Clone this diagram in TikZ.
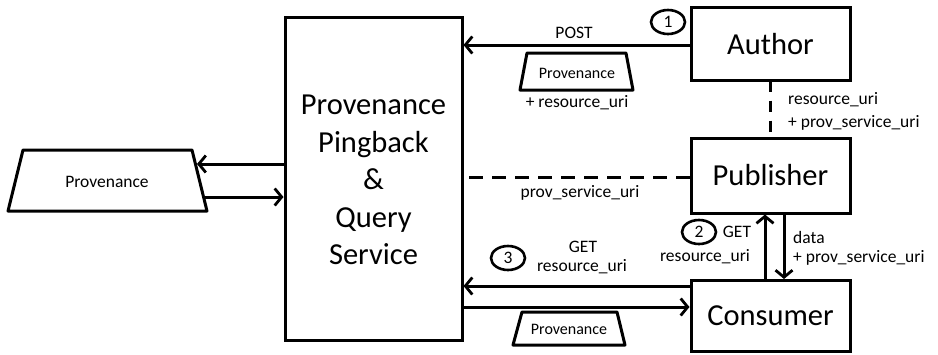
\documentclass[tikz,border=0pt]{standalone}
\usepackage{fontspec}
\setmainfont{Carlito}
\usetikzlibrary{arrows.meta,shapes.geometric}
\tikzset{
  box/.style={draw, line width=3pt, inner sep=0pt},
  big/.style={font=\fontsize{30.5}{37.5}\selectfont},
  lbl/.style={font=\fontsize{17.5}{21}\selectfont, inner sep=0pt},
  arr/.style={line width=3pt, -{Straight Barb[length=7pt,width=17pt,line width=2.8pt]}},
  dsh/.style={line width=3pt, dash pattern=on 14pt off 9pt},
  num/.style={draw, ellipse, line width=2.6pt, minimum width=34pt, minimum height=24pt, inner sep=0pt, font=\fontsize{17.5}{21}\selectfont},
  trap/.style={line width=3pt, line join=round},
}
\begin{document}
\begin{tikzpicture}[x=1pt,y=-1pt]
\useasboundingbox (0,0) rectangle (938,354);
% boxes
\node[box, big, minimum width=177pt, minimum height=323pt] (main) at (373.5,178.5) {};
\node[big, align=center] (maintext) at (373.5,180) {Provenance\\Pingback\\\&\\Query\\Service};
\node[box, big, minimum width=159pt, minimum height=73pt] (author) at (770.5,44) {Author};
\node[box, big, minimum width=159pt, minimum height=75pt] (publisher) at (770.5,175.5) {Publisher};
\node[box, big, minimum width=159pt, minimum height=71pt] (consumer) at (770.5,316) {Consumer};
% trapezoids
\draw[trap] (520,90) -- (527,53) -- (626,53) -- (633,90) -- cycle;
\node[font=\fontsize{16}{19}\selectfont] (prov1) at (577,73) {Provenance};
\draw[trap] (513,345) -- (522,312) -- (617,312) -- (625,345) -- cycle;
\node[font=\fontsize{16}{19}\selectfont] (prov3) at (569,329) {Provenance};
\draw[trap] (8,211) -- (23,150) -- (192,150) -- (207,211) -- cycle;
\node[font=\fontsize{17.5}{21}\selectfont] (prov2) at (107,182) {Provenance};
\coordinate (lefttop) at (197,164);
\coordinate (leftbot) at (205,197);
% connectors
\draw[arr] (author.west |- 0,45) -- (main.east |- 0,45);
\draw[dsh, dash pattern=on 11pt off 9pt] (770,80.5) -- (770,138);
\draw[dsh] (publisher.west |- 0,177) -- (main.east |- 0,177);
\draw[arr] (consumer.north -| 765,0) -- (publisher.south -| 765,0);
\draw[arr] (publisher.south -| 784,0) -- (consumer.north -| 784,0);
\draw[arr] (consumer.west |- 0,286) -- (main.east |- 0,286);
\draw[arr] (main.east |- 0,307) -- (consumer.west |- 0,307);
\draw[arr] (main.west |- lefttop) -- (lefttop);
\draw[arr] (leftbot) -- (main.west |- leftbot);
% labels
\node[lbl] (post) at (574,33) {POST};
\node[lbl] (resuri1) at (577,103) {+ resource\_uri};
\node[num] (n1) at (668,22) {1};
\node[lbl, anchor=west] (resuri2) at (788,100) {resource\_uri};
\node[lbl, anchor=west] (psu1) at (788,123) {+ prov\_service\_uri};
\node[lbl] (psu2) at (580,193) {prov\_service\_uri};
\node[num] (n2) at (699,232) {2};
\node[lbl] (get2) at (737,232) {GET};
\node[lbl] (resuri3) at (705,257) {resource\_uri};
\node[lbl, anchor=west] (data) at (793,237) {data};
\node[lbl, anchor=west] (psu3) at (793,258) {+ prov\_service\_uri};
\node[num] (n3) at (508,258) {3};
\node[lbl] (get3) at (583,247) {GET};
\node[lbl] (resuri4) at (582,267) {resource\_uri};
\end{tikzpicture}
\end{document}
